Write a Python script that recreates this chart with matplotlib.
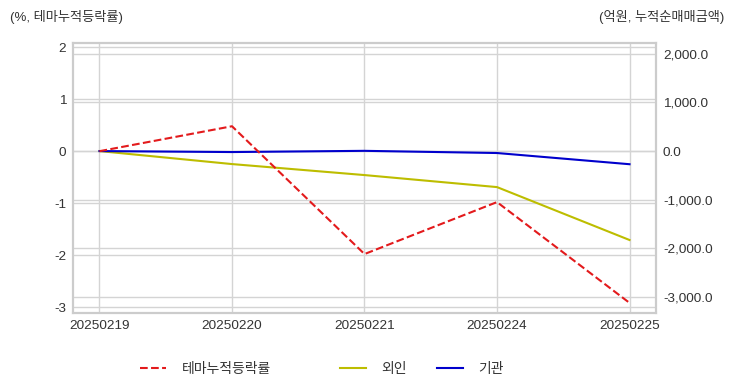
import matplotlib
matplotlib.use('Agg')
import matplotlib.pyplot as plt
from matplotlib.ticker import FuncFormatter

plt.rcParams['font.family'] = ['Liberation Sans', 'Noto Sans CJK KR', 'DejaVu Sans']
plt.rcParams['axes.unicode_minus'] = False

dates = ['20250219', '20250220', '20250221', '20250224', '20250225']
theme_ret = [0.0, 0.48, -1.98, -0.98, -2.92]      # %, left axis
foreign = [0.0, -267.0, -493.0, -740.0, -1827.0]  # 억원, right axis
inst = [0.0, -20.0, 5.0, -40.0, -270.0]           # 억원, right axis

grid_c = '#d4d4d4'
text_c = '#333333'

fig = plt.figure(figsize=(7.32, 3.92), dpi=100)
ax = fig.add_axes([0.0997, 0.2015, 0.7965, 0.6885])
ax2 = ax.twinx()
ax3 = ax.twinx()  # only carries the red line, drawn on top of both grids

x = range(len(dates))
l2, = ax2.plot(x, foreign, color='#bdbd00', linewidth=1.5)
l3, = ax2.plot(x, inst, color='#0000cc', linewidth=1.5)
l1, = ax3.plot(x, theme_ret, color='#e31a1c', linestyle='--', linewidth=1.5)

ax.set_xlim(-0.2, 4.2)
ax.set_ylim(-3.115, 2.08)
ax3.set_ylim(-3.115, 2.08)
ax2.set_ylim(-3327, 2218)
ax.set_xticks(list(x))
ax.set_xticklabels(dates)
ax.set_yticks([-3, -2, -1, 0, 1, 2])
ax2.set_yticks([-3000, -2000, -1000, 0, 1000, 2000])
ax2.yaxis.set_major_formatter(FuncFormatter(lambda v, p: f'{v:,.1f}'))
ax3.set_yticks([])
ax3.axis('off')

for a in (ax, ax2):
    a.grid(True, color=grid_c, linewidth=1)
    a.set_axisbelow(True)
    a.tick_params(length=0, labelsize=9.7, labelcolor=text_c, pad=5)
    for s in a.spines.values():
        s.set_color('#cccccc')
        s.set_linewidth(1.5)
ax2.grid(axis='x', visible=False)

fig.text(0.014, 0.957, '(%, 테마누적등락률)', fontsize=9.5, color=text_c, va='center', ha='left')
fig.text(0.99, 0.957, '(억원, 누적순매매금액)', fontsize=9.5, color=text_c, va='center', ha='right')

# legend items placed one by one to mimic the uneven spacing
items = [(l1, '테마누적등락률', 140), (l2, '외인', 340), (l3, '기관', 437)]
for h, lab, px in items:
    leg = fig.legend([h], [lab], loc='center left', bbox_to_anchor=(px / 732, 0.058),
                     frameon=False, fontsize=10, handlelength=1.9, handletextpad=1.1,
                     borderpad=0, borderaxespad=0, labelcolor=text_c)

fig.savefig('out.png', dpi=100)
